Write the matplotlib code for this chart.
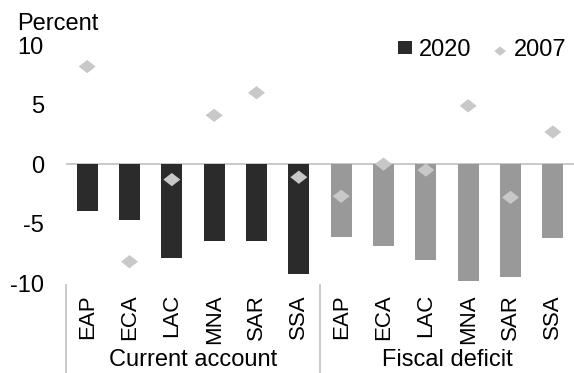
import matplotlib.pyplot as plt
import numpy as np

regions = ['EAP', 'ECA', 'LAC', 'MNA', 'SAR', 'SSA']
groups = ['Current account', 'Fiscal deficit']

# balances, percent of GDP
ca_2020 = [-3.9, -4.7, -7.9, -6.5, -6.5, -9.2]
fd_2020 = [-6.1, -6.9, -8.1, -9.8, -9.5, -6.2]
ca_2007 = [8.2, -8.2, -1.3, 4.1, 6.0, -1.1]
fd_2007 = [-2.7, 0.0, -0.5, 4.9, -2.8, 2.7]

plt.rcParams['font.family'] = ['Liberation Sans', 'DejaVu Sans']
plt.rcParams['axes.unicode_minus'] = False

fig = plt.figure(figsize=(5.74, 3.73), dpi=100)
ax = fig.add_axes([0.115, 0.241, 0.885, 0.638])

n = len(regions)
x = np.arange(2 * n)
vals_2020 = ca_2020 + fd_2020
vals_2007 = ca_2007 + fd_2007
cols = ['#2b2b2b'] * n + ['#999999'] * n

# flattened diamond
diamond = [(-1, 0), (0, 0.78), (1, 0), (0, -0.78), (-1, 0)]

ax.axhline(0, color='#c0c0c0', lw=1.2, zorder=1)
b = ax.bar(x, vals_2020, width=0.5, color=cols, zorder=2)
d = ax.scatter(x, vals_2007, marker=diamond, s=150, color='#c8c8c8', zorder=3,
               edgecolors='none')

ax.set_xlim(-0.5, 2 * n - 0.5)
ax.set_ylim(-10, 10)
ax.set_yticks([-10, -5, 0, 5, 10])
ax.tick_params(axis='y', length=0, labelsize=17, pad=16)
ax.set_xticks(x)
ax.set_xticklabels(regions * 2, rotation=90, fontsize=16)
ax.tick_params(axis='x', length=0, pad=8)
for s in ax.spines.values():
    s.set_visible(False)

# group separators and labels under the category axis
for xs in [-0.5, n - 0.5]:
    ax.plot([xs, xs], [-0.01, -0.38], transform=ax.get_xaxis_transform(),
            color='#c0c0c0', lw=1.2, clip_on=False)
for i, g in enumerate(groups):
    ax.text(i * n + (n - 1) / 2, -0.325, g, transform=ax.get_xaxis_transform(),
            ha='center', va='center', fontsize=17)

fig.text(0.03, 0.935, 'Percent', fontsize=17, va='center')

ax.legend([b.patches[0], d], ['2020', '2007'], ncol=2, frameon=False,
          loc='upper right', fontsize=17, bbox_to_anchor=(1.0, 1.055),
          borderaxespad=0, borderpad=0.3,
          handlelength=0.6, handleheight=0.5, handletextpad=0.3,
          columnspacing=0.9, markerscale=0.7)

fig.savefig('out.png', dpi=100)
